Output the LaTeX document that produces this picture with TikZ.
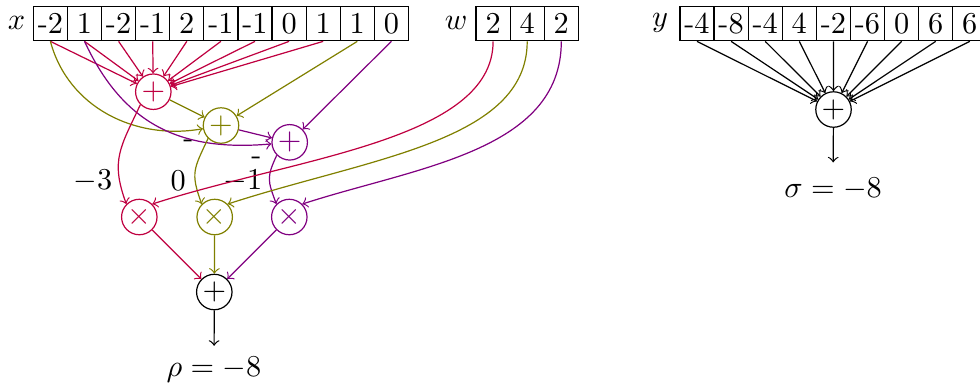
\documentclass[tikz,border=0pt]{standalone}
\definecolor{cR}{rgb}{0.75,0,0.25}
\definecolor{cO}{rgb}{0.5,0.5,0}
\definecolor{cV}{rgb}{0.5,0,0.5}
\begin{document}
\begin{tikzpicture}[x=0.33pt,y=0.33pt,
  cell/.style={draw, minimum size=11.25pt, inner sep=0pt},
  op/.style={circle, draw, inner sep=0pt, minimum size=11.7pt},
  lbl/.style={inner sep=0pt}]
\useasboundingbox (0,0) rectangle (980,-385);
% arrays
\node (xl) at (16.5,-22.5) {$x$};
\foreach \v [count=\i from 0] in {-2,1,-2,-1,2,-1,-1,0,1,1,0}
  \node[cell] (x\i) at ({50.4+34.1*\i},-23.7) {\v};
\node (wl) at (456,-22.5) {$w$};
\foreach \v [count=\i from 0] in {2,4,2}
  \node[cell] (w\i) at ({493.1+34.1*\i},-23.7) {\v};
\node (yl) at (660,-22.5) {$y$};
\foreach \v [count=\i from 0] in {-4,-8,-4,4,-2,-6,0,6,6}
  \node[cell] (y\i) at ({697+34.1*\i},-23.7) {\v};
% operation nodes
\node[op, cR] (s1) at (153.3,-91.7) {$+$};
\node[op, cO] (s2) at (221,-125.5) {$+$};
\node[op, cV] (s3) at (289.7,-142.3) {$+$};
\node[op, cR] (m1) at (139.3,-217) {$\times$};
\node[op, cO] (m2) at (214.7,-217) {$\times$};
\node[op, cV] (m3) at (289.3,-217) {$\times$};
\node[op] (f) at (214.3,-292) {$+$};
\node (rho) at (214,-369.2) {$\rho = -8$};
\node[op] (ys) at (833.5,-109.5) {$+$};
\node[inner ysep=5pt] (sigma) at (833,-189.2) {$\sigma = -8$};
% value labels
\node[lbl] (v1) at (93,-181) {$-3$};
\node[lbl] (v2) at (178.3,-181) {$0$};
\node[lbl] (v3) at (243,-181) {$-1$};
\node[lbl] (n1) at (188.3,-143.5) {-};
\node[lbl] (n2) at (256.3,-161) {-};
% red sum
\foreach \i in {0,...,8}
  \draw[cR,->] (x\i.south) -- (s1);
% olive sum
\draw[cO,->] (x0.south) to[out=-75,in=190] (s2);
\draw[cO,->] (s1) -- (s2);
\draw[cO,->] (x9.south) -- (s2);
% violet sum
\draw[cV,->] (x1.south) to[out=-65,in=185,looseness=1.1] (s3);
\draw[cV,->] (s2) -- (s3);
\draw[cV,->] (x10.south) -- (s3);
% to products
\draw[cR,->] (s1.south west) to[out=-115,in=110,looseness=1.2] (m1.north west);
\draw[cO,->] (s2.south west) to[out=-115,in=110,looseness=1.3] (m2.north west);
\draw[cV,->] (s3.south west) to[out=-115,in=110,looseness=1.3] (m3.north west);
\draw[cR,->] (w0.south) to[out=-90,in=18,out looseness=0.67,in looseness=1.01] (m1.north east);
\draw[cO,->] (w1.south) to[out=-90,in=18,out looseness=0.75,in looseness=1.12] (m2.north east);
\draw[cV,->] (w2.south) to[out=-90,in=18,out looseness=0.92,in looseness=1.0] (m3.north east);
% final sum
\draw[cR,->] (m1) -- (f);
\draw[cO,->] (m2) -- (f);
\draw[cV,->] (m3) -- (f);
\draw[->] (f) -- (rho);
% y sum
\foreach \i in {0,...,8}
  \draw[->] (y\i.south) -- (ys);
\draw[->] (ys) -- (sigma);
\end{tikzpicture}
\end{document}
